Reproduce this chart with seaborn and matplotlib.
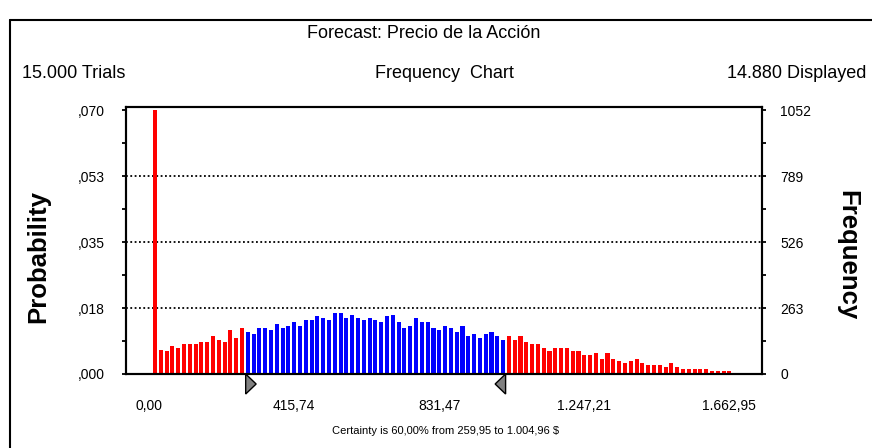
import numpy as np
import pandas as pd
import seaborn as sns
import matplotlib.pyplot as plt
import matplotlib.transforms as mtransforms
from matplotlib.patches import Polygon
from matplotlib.lines import Line2D
from matplotlib.ticker import AutoMinorLocator

# Forecast results (Crystal Ball style frequency chart)
trials = 15000
displayed = 14880
x_max = 1662.95
n_bins = 100
cert_low, cert_high = 259.95, 1004.96

# frequency per bin (bin 0 is the spike at 0,00)
freq = [1052,
        97, 91, 113, 105, 121, 121, 121, 129, 129, 152, 137, 129, 176, 144, 184,
        168, 160, 183, 183, 176, 199, 183, 191, 206, 191,
        214, 214, 230, 222, 214, 244, 244, 222, 236, 222,
        214, 222, 214, 206, 230, 236, 206, 183, 191, 222,
        206, 206, 183, 176, 191, 183, 168, 191, 152, 160,
        144, 160, 168, 152, 136,
        152, 136, 152, 129, 121, 121, 105, 91, 105, 105,
        105, 91, 91, 76, 76, 84, 60, 84, 60, 52,
        45, 52, 60, 45, 37, 37, 37, 29, 45, 29,
        21, 21, 21, 21, 21, 13, 13, 13, 13]

x_ticks = [0, 415.74, 831.47, 1247.21, 1662.95]
freq_ticks = [0, 263, 526, 789, 1052]


def es_number(v, dec=2):
    s = f"{v:,.{dec}f}"
    return s.replace(",", "X").replace(".", ",").replace("X", ".")


def prob_label(f):
    return f"{f / trials:.3f}".replace("0.", ",", 1)


bin_w = x_max / n_bins
df = pd.DataFrame({
    "price": np.arange(n_bins) * bin_w,
    "freq": freq,
})
df["zone"] = np.where((df["price"] >= cert_low) & (df["price"] <= cert_high), "in", "out")

sns.set_style("white", {"text.color": "black", "xtick.color": "black",
                        "ytick.color": "black", "axes.labelcolor": "black"})
plt.rcParams['font.family'] = ['Liberation Sans', 'DejaVu Sans']

fig = plt.figure(figsize=(8.72, 4.48), dpi=100)
ax = fig.add_axes([0.1445, 0.1652, 0.7294, 0.596])

sns.barplot(data=df, x="price", y="freq", hue="zone",
            palette={"in": "#0000ff", "out": "#ff0000"},
            native_scale=True, dodge=False, width=0.7, errorbar=None,
            saturation=1, linewidth=0, legend=False, ax=ax)

ax.set_xlim(-83.1, 1740)
ax.set_ylim(0, 1066)

for v in freq_ticks[1:-1]:
    ax.axhline(v, color="black", lw=1.3, linestyle=(0, (1, 1.4)), zorder=0.5)

ax.set_xticks(x_ticks)
ax.set_xticklabels([es_number(v) for v in x_ticks])
ax.set_yticks(freq_ticks)
ax.set_yticklabels([prob_label(f) for f in freq_ticks])
ax.xaxis.set_minor_locator(AutoMinorLocator(2))
ax.yaxis.set_minor_locator(AutoMinorLocator(2))
ax.set_xlabel("")
ax.set_ylabel("")

ax2 = ax.twinx()
ax2.set_ylim(ax.get_ylim())
ax2.set_yticks(freq_ticks)
ax2.set_yticklabels([str(f) for f in freq_ticks])
ax2.yaxis.set_minor_locator(AutoMinorLocator(2))

tick_kw = dict(which="both", direction="out", length=3, width=1.3, labelsize=10,
               color="black", labelcolor="black")
ax.tick_params(axis="x", pad=15, **tick_kw)
ax.tick_params(axis="y", pad=12, **tick_kw)
ax2.tick_params(axis="y", pad=10, **tick_kw)

# x labels sit slightly left of their ticks in the original
shift = mtransforms.ScaledTranslation(-6 / 100, 0, fig.dpi_scale_trans)
for lab in ax.get_xticklabels():
    lab.set_transform(lab.get_transform() + shift)

for a in (ax, ax2):
    for sp in a.spines.values():
        sp.set_color("black")
        sp.set_linewidth(1.5)

# certainty range markers under the axis
tr = ax.get_xaxis_transform()
tri_w = 30
tri_h = 0.075
left_tri = Polygon([(cert_low, 0), (cert_low, -tri_h), (cert_low + tri_w, -tri_h / 2)],
                   closed=True, facecolor="#808080", edgecolor="black", lw=1,
                   transform=tr, clip_on=False, zorder=5)
right_tri = Polygon([(cert_high, 0), (cert_high, -tri_h), (cert_high - tri_w, -tri_h / 2)],
                    closed=True, facecolor="#808080", edgecolor="black", lw=1,
                    transform=tr, clip_on=False, zorder=5)
ax.add_patch(left_tri)
ax.add_patch(right_tri)

# texts
hdr = 13
fig.text(0.486, 0.926, "Forecast: Precio de la Acción", ha="center", va="center", fontsize=hdr)
fig.text(0.025, 0.835, f"{es_number(trials, 0)} Trials", ha="left", va="center", fontsize=hdr)
fig.text(0.510, 0.835, "Frequency  Chart", ha="center", va="center", fontsize=hdr)
fig.text(0.994, 0.835, f"{es_number(displayed, 0)} Displayed", ha="right", va="center", fontsize=hdr)
fig.text(0.0436, 0.428, "Probability", rotation=90, ha="center", va="center",
         fontsize=18.5, fontweight="bold")
fig.text(0.972, 0.43, "Frequency", rotation=-90, ha="center", va="center",
         fontsize=18.5, fontweight="bold")
fig.text(0.511, 0.038,
         f"Certainty is 60,00% from {es_number(cert_low)} to {es_number(cert_high)} $",
         ha="center", va="center", fontsize=8)

# outer frame
fig.add_artist(Line2D([0.0115, 0.0115], [0.0, 0.955], color="black", lw=1.5))
fig.add_artist(Line2D([0.0115, 1.0], [0.955, 0.955], color="black", lw=1.5))

fig.savefig("out.png", dpi=100)
